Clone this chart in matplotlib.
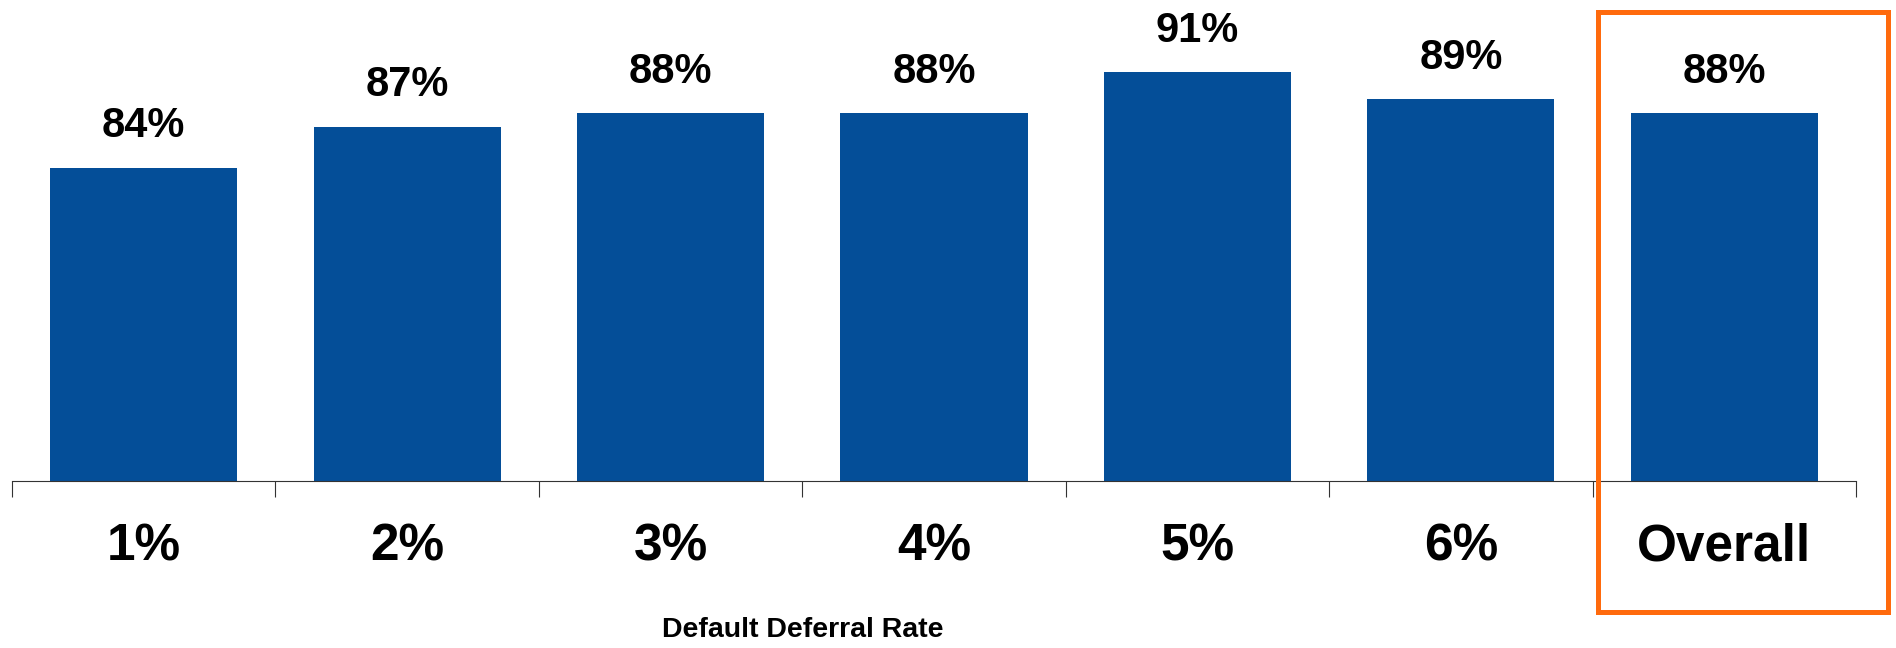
import numpy as np
import matplotlib.pyplot as plt
from matplotlib.patches import Rectangle

plt.rcParams['font.family'] = ['Liberation Sans', 'DejaVu Sans']
plt.rcParams['font.weight'] = 'bold'

# participation by default deferral rate
categories = ['1%', '2%', '3%', '4%', '5%', '6%', 'Overall']
rates = [84, 87, 88, 88, 91, 89, 88]

bar_color = '#044E98'
box_color = '#FF6A0D'

fig = plt.figure(figsize=(18.96, 6.48), dpi=100)
ax = fig.add_axes([12 / 1896, 167 / 648, 1844 / 1896, 481 / 648])

x = np.arange(len(categories))
ax.bar(x, rates, width=0.71, color=bar_color)

for xi, v in zip(x, rates):
    ax.annotate(f'{v}%', (xi, v), xytext=(0, 22), textcoords='offset points',
                ha='center', va='baseline', fontsize=30, fontweight='bold')

ax.set_xlim(-0.5, len(categories) - 0.5)
ax.set_ylim(61, 96.3)

# category labels centred, tick marks on the boundaries between bars
ax.set_xticks(x)
ax.set_xticklabels(categories, fontsize=37, fontweight='bold')
ax.tick_params(axis='x', which='major', length=0, pad=30)
ax.set_xticks(np.arange(-0.5, len(categories)), minor=True)
ax.tick_params(axis='x', which='minor', length=11.5, width=0.8, color='#333333', direction='out')

ax.set_yticks([])
for side in ['top', 'right', 'left']:
    ax.spines[side].set_visible(False)
ax.spines['bottom'].set_color('#333333')
ax.spines['bottom'].set_linewidth(0.8)

# axis title sits under the six rate categories
ax.text(2.5, -0.31, 'Default Deferral Rate', transform=ax.get_xaxis_transform(),
        ha='center', va='center', fontsize=20.5, fontweight='bold')

# highlight the overall column
fig.patches.append(Rectangle((1598 / 1896, 36 / 648), 290 / 1896, 600 / 648,
                             transform=fig.transFigure, fill=False,
                             edgecolor=box_color, linewidth=3.6))

fig.savefig('out.png', dpi=100)
